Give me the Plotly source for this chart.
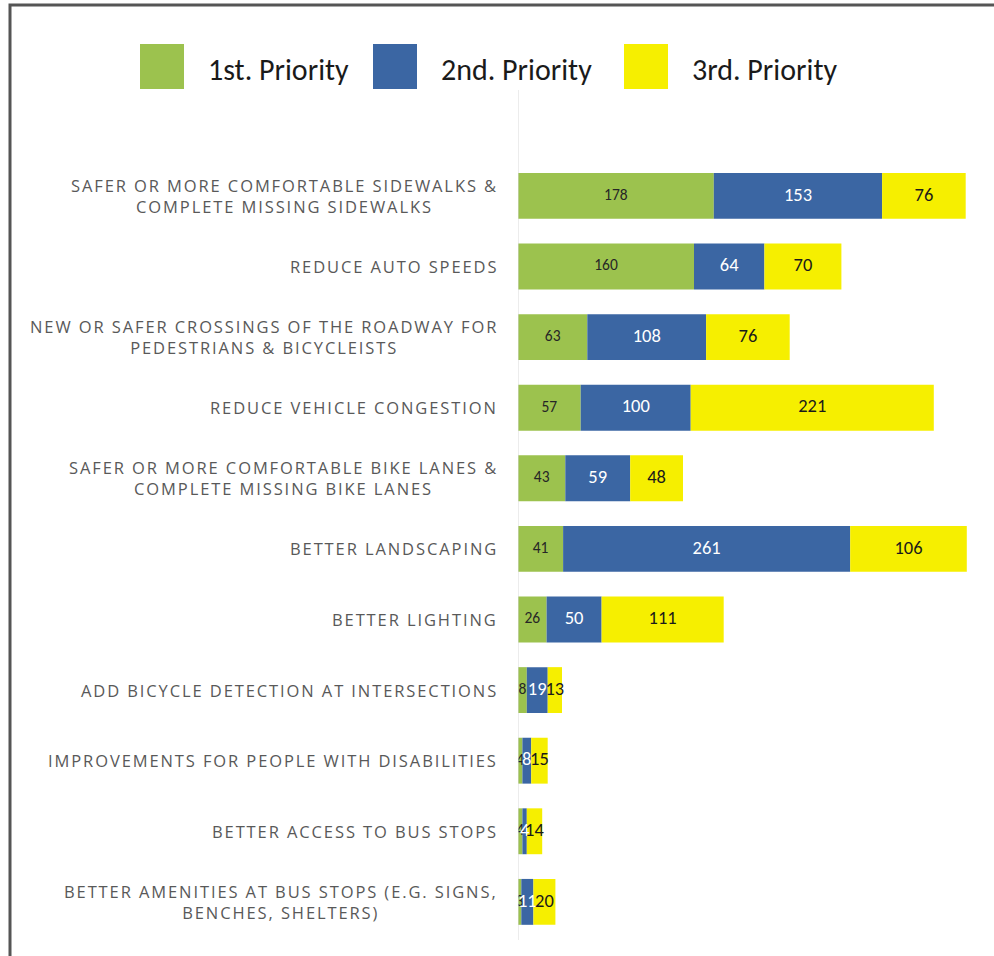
import plotly.graph_objects as go

categories = [
    "SAFER OR MORE COMFORTABLE SIDEWALKS &<br>COMPLETE MISSING SIDEWALKS",
    "REDUCE AUTO SPEEDS",
    "NEW OR SAFER CROSSINGS OF THE ROADWAY FOR<br>PEDESTRIANS & BICYCLEISTS",
    "REDUCE VEHICLE CONGESTION",
    "SAFER OR MORE COMFORTABLE BIKE LANES &<br>COMPLETE MISSING BIKE LANES",
    "BETTER LANDSCAPING",
    "BETTER LIGHTING",
    "ADD BICYCLE DETECTION AT INTERSECTIONS",
    "IMPROVEMENTS FOR PEOPLE WITH DISABILITIES",
    "BETTER ACCESS TO BUS STOPS",
    "BETTER AMENITIES AT BUS STOPS (E.G. SIGNS,<br>BENCHES, SHELTERS)",
]
first = [178, 160, 63, 57, 43, 41, 26, 8, 4, 4, 3]
second = [153, 64, 108, 100, 59, 261, 50, 19, 8, 4, 11]
third = [76, 70, 76, 221, 48, 106, 111, 13, 15, 14, 20]
series_names = ["1st. Priority", "2nd. Priority", "3rd. Priority"]
colors = ["#9CC24E", "#3B66A3", "#F6EF00"]
text_colors = ["#262626", "#ffffff", "#1a1a1a"]
text_sizes = [15.5, 18.5, 18.5]

W, H = 994, 956
ML, MR, MT, MB = 518, 0, 90, 16
num_font = "Carlito, Liberation Sans Narrow, DejaVu Sans Condensed, sans-serif"

fig = go.Figure()
idx = list(range(len(categories)))
series = [first, second, third]
base = [0] * len(categories)
for vals, name, col, tcol, tsz in zip(series, series_names, colors, text_colors, text_sizes):
    fig.add_trace(go.Bar(
        y=idx, x=vals, orientation="h", name=name, base=base,
        marker=dict(color=col, line=dict(width=0)),
        showlegend=False, hoverinfo="x+name",
    ))
    mids = [b + v / 2 for b, v in zip(base, vals)]
    fig.add_trace(go.Scatter(
        x=mids, y=idx, mode="text", text=[str(v) for v in vals],
        textposition="middle center",
        textfont=dict(color=tcol, size=tsz, family=num_font),
        showlegend=False, hoverinfo="skip",
    ))
    base = [b + v for b, v in zip(base, vals)]

# category labels (centered multi-line, right-anchored)
sp = "<span style='letter-spacing:1.9px'>{}</span>"
for i, c in enumerate(categories):
    txt = "<br>".join(sp.format(line) for line in c.split("<br>"))
    fig.add_annotation(
        x=0, xref="paper", y=i, yref="y", text=txt, showarrow=False,
        xanchor="right", yanchor="middle", align="center", xshift=-18,
        font=dict(family="Open Sans, DejaVu Sans, sans-serif", size=16.5, color="#595959"),
    )

# custom legend
pw = W - ML - MR
ph = H - MT - MB
def px_x(p):
    return (p - ML) / pw
def px_y(p):
    return (H - MB - p) / ph

legend_x = [140, 373, 624]
for lx, name, col in zip(legend_x, series_names, colors):
    fig.add_shape(type="rect", xref="paper", yref="paper",
                  x0=px_x(lx), x1=px_x(lx + 44), y0=px_y(89), y1=px_y(44),
                  fillcolor=col, line=dict(width=0))
    fig.add_annotation(x=px_x(lx + 66), xref="paper", y=px_y(69), yref="paper",
                       text=name, showarrow=False, xanchor="left", yanchor="middle",
                       font=dict(family=num_font, size=30, color="#1a1a1a"))

# frame
fig.add_shape(type="rect", xref="paper", yref="paper",
              x0=px_x(10), x1=px_x(W + 20), y0=px_y(H + 20), y1=px_y(5),
              line=dict(color="#555555", width=3), fillcolor="rgba(0,0,0,0)", layer="above")

fig.update_layout(
    width=W, height=H, barmode="overlay", bargap=0.35,
    margin=dict(l=ML, r=MR, t=MT, b=MB),
    paper_bgcolor="white", plot_bgcolor="white",
    xaxis=dict(range=[0, pw / 1.1], visible=False, fixedrange=True),
    yaxis=dict(range=[10.54, -1.5], showticklabels=False, showgrid=False,
               zeroline=False, showline=False, ticks="", fixedrange=True),
)
fig.add_shape(type="line", xref="x", yref="paper", x0=0, x1=0, y0=0, y1=1,
              line=dict(color="#d9d9d9", width=1))

fig.write_html("out.html", config={"displayModeBar": False},
               post_script="document.body.style.margin='0px';")
